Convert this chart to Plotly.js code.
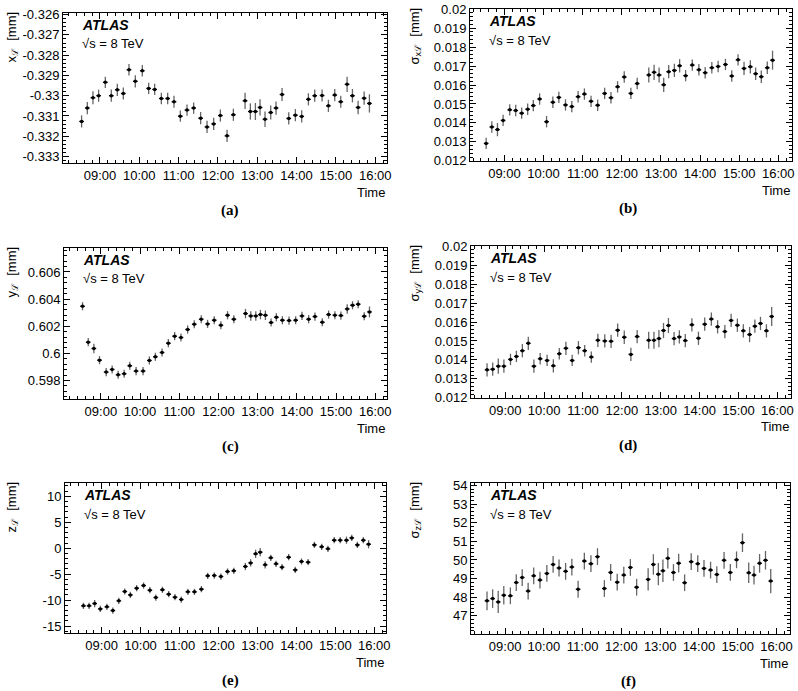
<!DOCTYPE html>
<html>
<head>
<meta charset="utf-8">
<script src="https://cdn.plot.ly/plotly-3.0.1.min.js"></script>
<style>
  body { margin: 0; background: #fff; }
  #chart { width: 798px; height: 691px; }
</style>
</head>
<body>
<div id="chart"></div>
<script>
// time of each measurement (hours of the day)
var times = [8.533, 8.678, 8.822, 8.966, 9.136, 9.288, 9.441, 9.594, 9.738, 9.899, 10.077, 10.238, 10.391, 10.561, 10.722, 10.883, 11.044, 11.214, 11.383, 11.561, 11.723, 11.892, 12.062, 12.232, 12.393, 12.690, 12.825, 12.953, 13.071, 13.198, 13.343, 13.478, 13.631, 13.801, 13.970, 14.131, 14.301, 14.462, 14.649, 14.810, 14.971, 15.124, 15.285, 15.421, 15.565, 15.718, 15.853];
var timeErr = 0.06;

var hourTicks = [9, 10, 11, 12, 13, 14, 15, 16];
var hourLabels = ["09:00", "10:00", "11:00", "12:00", "13:00", "14:00", "15:00", "16:00"];

// y tick labels for the axes with negative values (plain hyphen, as in the original)
var xLTicks = [-0.326, -0.327, -0.328, -0.329, -0.33, -0.331, -0.332, -0.333];
var xLLabels = ["-0.326", "-0.327", "-0.328", "-0.329", "-0.33", "-0.331", "-0.332", "-0.333"];
var zLTicks = [10, 5, 0, -5, -10, -15];
var zLLabels = ["10", "5", "0", "-5", "-10", "-15"];

// (a) x_L [mm]
var xL = [-0.33127, -0.33061, -0.33010, -0.33000, -0.32934, -0.33000, -0.32971, -0.32989, -0.32872, -0.32929, -0.32877, -0.32964, -0.32969, -0.33014, -0.33014, -0.33030, -0.33101, -0.33071, -0.33061, -0.33111, -0.33154, -0.33139, -0.33098, -0.33198, -0.33094, -0.33025, -0.33078, -0.33078, -0.33058, -0.33116, -0.33083, -0.33061, -0.32994, -0.33112, -0.33096, -0.33102, -0.33018, -0.33000, -0.32999, -0.33050, -0.32997, -0.33030, -0.32944, -0.33000, -0.33058, -0.33012, -0.33038];
var xLerr = [0.00030, 0.00030, 0.00032, 0.00030, 0.00028, 0.00030, 0.00030, 0.00030, 0.00028, 0.00030, 0.00028, 0.00028, 0.00028, 0.00028, 0.00028, 0.00030, 0.00028, 0.00028, 0.00028, 0.00030, 0.00030, 0.00030, 0.00030, 0.00030, 0.00030, 0.00040, 0.00040, 0.00042, 0.00040, 0.00038, 0.00035, 0.00033, 0.00032, 0.00030, 0.00030, 0.00030, 0.00030, 0.00030, 0.00030, 0.00030, 0.00030, 0.00030, 0.00038, 0.00033, 0.00033, 0.00033, 0.00045];

// (b) sigma_xL [mm]
var sigX = [0.012917, 0.013785, 0.013646, 0.014132, 0.014688, 0.014653, 0.014514, 0.014722, 0.014913, 0.015260, 0.014063, 0.015087, 0.015347, 0.014948, 0.014861, 0.015382, 0.015521, 0.015139, 0.014930, 0.015556, 0.015330, 0.015903, 0.016424, 0.015556, 0.016076, 0.016528, 0.016667, 0.016528, 0.016007, 0.016701, 0.016771, 0.017014, 0.016493, 0.017049, 0.016806, 0.016649, 0.016910, 0.016979, 0.017083, 0.016476, 0.017326, 0.016875, 0.016962, 0.016597, 0.016441, 0.016910, 0.017309];
var sigXerr = [0.00030, 0.00030, 0.00035, 0.00030, 0.00030, 0.00030, 0.00030, 0.00030, 0.00030, 0.00030, 0.00030, 0.00030, 0.00030, 0.00030, 0.00030, 0.00030, 0.00030, 0.00030, 0.00030, 0.00030, 0.00030, 0.00030, 0.00030, 0.00030, 0.00030, 0.00040, 0.00040, 0.00040, 0.00038, 0.00035, 0.00035, 0.00035, 0.00030, 0.00030, 0.00030, 0.00030, 0.00030, 0.00030, 0.00030, 0.00030, 0.00030, 0.00035, 0.00035, 0.00033, 0.00033, 0.00033, 0.00050];

// (c) y_L [mm]
var yL = [0.603472, 0.600822, 0.600356, 0.599497, 0.598613, 0.598810, 0.598417, 0.598491, 0.599080, 0.598687, 0.598687, 0.599472, 0.599742, 0.600061, 0.600748, 0.601264, 0.601166, 0.601755, 0.602147, 0.602515, 0.602172, 0.602442, 0.602074, 0.602810, 0.602515, 0.602933, 0.602761, 0.602761, 0.602859, 0.602810, 0.602270, 0.602663, 0.602442, 0.602417, 0.602442, 0.602761, 0.602515, 0.602712, 0.602294, 0.602859, 0.602810, 0.602785, 0.603276, 0.603546, 0.603620, 0.602736, 0.603055];
var yLerr = [0.00030, 0.00030, 0.00035, 0.00030, 0.00030, 0.00030, 0.00030, 0.00030, 0.00030, 0.00030, 0.00030, 0.00030, 0.00030, 0.00030, 0.00030, 0.00030, 0.00030, 0.00030, 0.00030, 0.00030, 0.00030, 0.00030, 0.00030, 0.00030, 0.00030, 0.00035, 0.00035, 0.00035, 0.00035, 0.00035, 0.00030, 0.00030, 0.00030, 0.00030, 0.00030, 0.00030, 0.00030, 0.00030, 0.00030, 0.00030, 0.00030, 0.00030, 0.00035, 0.00030, 0.00030, 0.00030, 0.00040];

// (d) sigma_yL [mm]
var sigY = [0.013475, 0.013511, 0.013670, 0.013670, 0.014025, 0.014184, 0.014486, 0.014876, 0.013670, 0.014060, 0.013972, 0.013688, 0.014326, 0.014610, 0.013972, 0.014645, 0.014486, 0.014149, 0.015035, 0.015000, 0.014982, 0.015567, 0.015195, 0.014291, 0.015230, 0.015035, 0.015035, 0.015124, 0.015550, 0.015816, 0.015124, 0.015213, 0.015018, 0.015851, 0.015142, 0.015887, 0.016152, 0.015745, 0.015496, 0.016082, 0.015833, 0.015532, 0.015337, 0.015780, 0.015922, 0.015532, 0.016294];
var sigYerr = [0.00035, 0.00035, 0.00040, 0.00035, 0.00030, 0.00030, 0.00035, 0.00035, 0.00035, 0.00030, 0.00030, 0.00035, 0.00030, 0.00035, 0.00030, 0.00035, 0.00030, 0.00030, 0.00035, 0.00035, 0.00035, 0.00035, 0.00035, 0.00035, 0.00035, 0.00045, 0.00045, 0.00045, 0.00040, 0.00040, 0.00035, 0.00035, 0.00035, 0.00035, 0.00035, 0.00035, 0.00035, 0.00035, 0.00035, 0.00035, 0.00035, 0.00035, 0.00040, 0.00035, 0.00035, 0.00035, 0.00050];

// (e) z_L [mm]
var zL = [-11.12, -11.12, -10.67, -11.70, -11.31, -12.02, -10.15, -8.35, -9.00, -7.71, -7.20, -8.10, -9.51, -8.03, -8.87, -9.45, -9.90, -8.42, -8.42, -7.90, -5.33, -5.27, -5.46, -4.50, -4.37, -3.53, -2.83, -1.09, -0.77, -3.21, -1.86, -3.02, -3.66, -1.74, -4.18, -2.57, -2.70, 0.64, 0.26, -0.13, 1.54, 1.54, 1.54, 1.99, 0.64, 1.54, 0.77];
var zLerr = [0.6, 0.6, 0.7, 0.6, 0.6, 0.6, 0.6, 0.6, 0.6, 0.6, 0.6, 0.6, 0.6, 0.6, 0.6, 0.6, 0.6, 0.6, 0.6, 0.6, 0.6, 0.6, 0.6, 0.6, 0.6, 0.7, 0.7, 0.8, 0.8, 0.7, 0.6, 0.6, 0.6, 0.6, 0.6, 0.6, 0.6, 0.6, 0.6, 0.6, 0.6, 0.6, 0.7, 0.6, 0.6, 0.6, 0.8];

// (f) sigma_zL [mm]
var sigZ = [47.81, 47.93, 47.75, 48.11, 48.08, 48.79, 49.06, 48.33, 49.15, 48.92, 49.28, 49.76, 49.57, 49.39, 49.62, 48.43, 49.94, 49.80, 50.18, 48.47, 49.33, 48.81, 49.19, 49.60, 48.54, 48.96, 49.76, 49.24, 49.42, 50.09, 49.33, 49.83, 48.78, 49.91, 49.80, 49.55, 49.46, 49.22, 49.98, 49.33, 50.01, 50.93, 49.31, 49.19, 49.82, 49.98, 48.87];
var sigZerr = [0.50, 0.50, 0.60, 0.50, 0.45, 0.45, 0.45, 0.45, 0.45, 0.45, 0.45, 0.45, 0.45, 0.45, 0.45, 0.45, 0.45, 0.45, 0.45, 0.45, 0.45, 0.45, 0.45, 0.45, 0.45, 0.60, 0.55, 0.60, 0.60, 0.55, 0.45, 0.50, 0.45, 0.45, 0.45, 0.45, 0.45, 0.45, 0.45, 0.45, 0.45, 0.50, 0.55, 0.50, 0.50, 0.50, 0.65];

var W = 798, H = 691;
function px(x) { return x / W; }
function py(y) { return 1 - y / H; }

var NB = "\u00a0";
var series = [
  { y: xL,   err: xLerr,   title: "x<sub>ℒ</sub>" + NB + NB + "[mm]",  label: "(a)",
    box: [63, 387, 13, 163],  range: [-0.33332, -0.32592], tv: xLTicks, tt: xLLabels, minor: 0.0002, xr: [8.06, 16.30] },
  { y: sigX, err: sigXerr, title: "σ<sub>xℒ</sub>" + NB + NB + "[mm]", label: "(b)",
    box: [470, 792, 9, 161],  range: [0.01199, 0.02001], dtick: 0.001, minor: 0.0002, xr: [8.12, 16.35] },
  { y: yL,   err: yLerr,   title: "y<sub>ℒ</sub>" + NB + NB + "[mm]",  label: "(c)",
    box: [64, 387, 248, 399], range: [0.59663, 0.60777], dtick: 0.002, minor: 0.0004, xr: [8.06, 16.30] },
  { y: sigY, err: sigYerr, title: "σ<sub>yℒ</sub>" + NB + NB + "[mm]", label: "(d)",
    box: [471, 791, 246, 398], range: [0.01199, 0.02001], dtick: 0.001, minor: 0.0002, xr: [8.12, 16.35] },
  { y: zL,   err: zLerr,   title: "z<sub>ℒ</sub>" + NB + NB + "[mm]",  label: "(e)",
    box: [65, 386, 483, 633], range: [-16.35, 12.57], tv: zLTicks, tt: zLLabels, minor: 1, xr: [8.06, 16.30] },
  { y: sigZ, err: sigZerr, title: "σ<sub>zℒ</sub>" + NB + NB + "[mm]", label: "(f)",
    box: [471, 790, 483, 634], range: [46.03, 54.13], dtick: 1, minor: 0.2, xr: [8.12, 16.35] }
];

var font = "Liberation Sans, Arial, sans-serif";
var data = [];
var layout = {
  width: W, height: H,
  margin: { l: 0, r: 0, t: 0, b: 0 },
  paper_bgcolor: "#fff", plot_bgcolor: "#fff",
  showlegend: false,
  font: { family: font, size: 13, color: "#000" },
  annotations: []
};

series.forEach(function (s, i) {
  var n = i === 0 ? "" : String(i + 1);
  var b = s.box;
  data.push({
    x: times, y: s.y,
    xaxis: "x" + n, yaxis: "y" + n,
    type: "scatter", mode: "markers",
    marker: { color: "#000", size: 3.5 },
    error_y: { type: "data", array: s.err, color: "#666", thickness: 1.3, width: 0 },
    error_x: { type: "constant", value: timeErr, color: "#000", thickness: 1.3, width: 0 },
    hoverinfo: "x+y"
  });

  var common = {
    showline: true, linecolor: "#000", linewidth: 1, mirror: "allticks",
    ticks: "inside", ticklen: 6, tickcolor: "#000", tickwidth: 1,
    showgrid: false, zeroline: false,
    tickfont: { family: font, size: 13, color: "#000" }
  };
  layout["xaxis" + n] = Object.assign({}, common, {
    anchor: "y" + n,
    domain: [px(b[0]), px(b[1])],
    range: s.xr,
    tickmode: "array", tickvals: hourTicks, ticktext: hourLabels,
    minor: { ticks: "inside", ticklen: 3, dtick: 0.2, tick0: 8, tickcolor: "#000" }
  });
  var ya = Object.assign({}, common, {
    anchor: "x" + n,
    domain: [py(b[3]), py(b[2])],
    range: s.range,
    minor: { ticks: "inside", ticklen: 3, dtick: s.minor, tick0: 0, tickcolor: "#000" }
  });
  if (s.tv) {
    ya.tickmode = "array"; ya.tickvals = s.tv; ya.ticktext = s.tt;
  } else {
    ya.dtick = s.dtick; ya.tick0 = 0;
  }
  layout["yaxis" + n] = ya;

  var left = b[0] < 200;
  // y axis title (top aligned, ROOT style)
  layout.annotations.push({
    xref: "paper", yref: "paper",
    x: px(left ? 12 : 415), y: py(b[2] - 3),
    xanchor: "center", yanchor: "top",
    text: s.title, textangle: -90, showarrow: false,
    font: { family: font, size: 13 }
  });
  // x axis title
  layout.annotations.push({
    xref: "paper", yref: "paper",
    x: px(b[1]), y: py(b[3] + 29),
    xanchor: "right", yanchor: "middle",
    text: "Time", showarrow: false,
    font: { family: font, size: 13 }
  });
  // ATLAS label
  layout.annotations.push({
    xref: "paper", yref: "paper",
    x: px(b[0] + 17), y: py(b[2] + 12),
    xanchor: "left", yanchor: "middle",
    text: "<b><i>ATLAS</i></b>", showarrow: false,
    font: { family: font, size: 14 }
  });
  layout.annotations.push({
    xref: "paper", yref: "paper",
    x: px(b[0] + 17), y: py(b[2] + 31),
    xanchor: "left", yanchor: "middle",
    text: "√s = 8 TeV", showarrow: false,
    font: { family: font, size: 13 }
  });
  // panel label
  layout.annotations.push({
    xref: "paper", yref: "paper",
    x: px(left ? 230 : 628), y: py(b[3] + 47),
    xanchor: "center", yanchor: "middle",
    text: "<b>" + s.label + "</b>", showarrow: false,
    font: { family: "Liberation Serif, Times New Roman, serif", size: 15 }
  });
});

Plotly.newPlot("chart", data, layout, { displayModeBar: false, staticPlot: true });
</script>
</body>
</html>
